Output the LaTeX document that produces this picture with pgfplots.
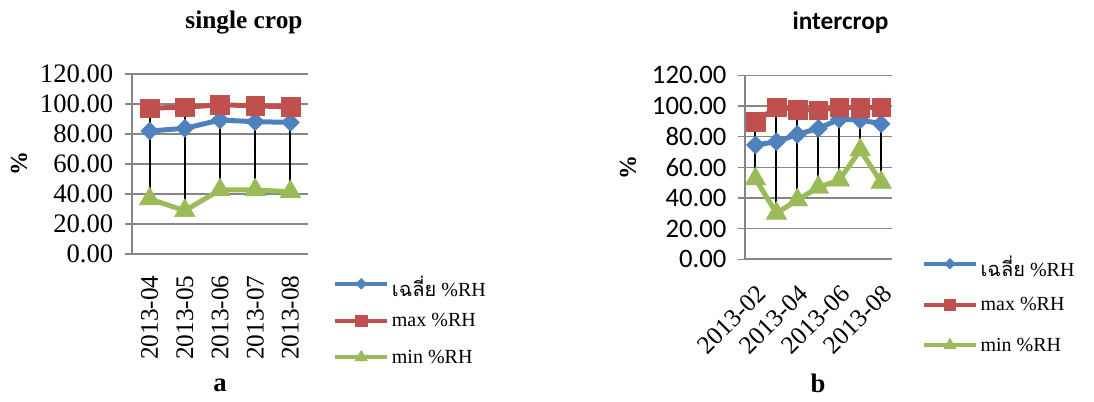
\documentclass[border=0pt]{standalone}
\usepackage{pgfplots}
\pgfplotsset{compat=1.18}
\usepackage{fontspec}
\setmainfont{Liberation Serif}
\newfontfamily\calibri{Carlito}
\newfontfamily\thaifont[Script=Thai]{Loma}

\definecolor{rhblue}{RGB}{79,129,189}
\definecolor{rhred}{RGB}{192,80,77}
\definecolor{rhgreen}{RGB}{155,187,89}
\definecolor{rhgrid}{RGB}{134,134,134}

\pgfplotsset{
  rhaxis/.style={
    scale only axis,
    axis lines=left,
    axis line style={-, rhgrid, line width=1.5pt},
    ymin=0, ymax=120, ytick={0,20,...,120},
    ymajorgrids,
    grid style={rhgrid, line width=1.2pt},
    tick align=outside,
    major tick length=5.5pt,
    ytick style={rhgrid, line width=1.2pt},
    xtick style={draw=none},
    unbounded coords=jump,
    yticklabel style={/pgf/number format/fixed, /pgf/number format/fixed zerofill, /pgf/number format/precision=2, /pgf/number format/assume math mode=true},
    clip=false,
    legend cell align=left,
    legend style={draw=none, fill=none, inner sep=0pt, font=\fontsize{15}{18}\selectfont, row sep=12pt},
    legend image code/.code={\draw[mark repeat=2, mark phase=2, ##1, line width=3pt, every mark/.append style={scale=0.6}] plot coordinates {(0pt,0pt) (19.5pt,0pt) (39pt,0pt)};},
  },
  avgline/.style={rhblue, line width=3.75pt, line join=round, mark=square*, mark size=4.8pt, mark options={rotate=45, solid, line width=0.3pt}},
  maxline/.style={rhred, line width=3.75pt, line join=round, mark=square*, mark size=7pt, mark options={solid, line width=0.3pt}},
  minline/.style={rhgreen, line width=3.75pt, line join=round, mark=triangle*, mark size=9pt, mark options={solid, line width=0.3pt}},
  hiloline/.style={black, line width=1.5pt, no marks, forget plot},
}

\begin{document}
\begin{tikzpicture}
\useasboundingbox (0,0) rectangle (820.5pt,-300.75pt);

% a: single crop
\begin{axis}[rhaxis, at={(99pt,-190.5pt)}, anchor=south west, width=132pt, height=135pt,
  xmin=-0.5, xmax=4.5, xtick={0,...,4},
  xticklabels={2013-04,2013-05,2013-06,2013-07,2013-08},
  xticklabel style={rotate=90, anchor=east, font=\fontsize{19}{20}\selectfont},
  xticklabel shift=7pt,
  yticklabel style={font=\fontsize{20}{22}\selectfont},
  yticklabel shift=5pt,
  legend style={at={(1.142,-0.105)}, anchor=north west}]
\addplot[avgline] coordinates {(0,82.0) (1,83.8) (2,89.3) (3,88.2) (4,87.8)};
\addlegendentry{\raisebox{-5pt}{{\thaifont เฉลี่ย} \%RH}}
\addplot[maxline] coordinates {(0,97.3) (1,97.8) (2,99.5) (3,98.8) (4,98.0)};
\addlegendentry{max \%RH}
\addplot[minline] coordinates {(0,36.7) (1,28.9) (2,42.7) (3,42.7) (4,41.5)};
\addlegendentry{min \%RH}
\addplot[hiloline] coordinates {(0,36.7) (0,97.3) (0,nan) (1,28.9) (1,97.8) (1,nan)
  (2,42.7) (2,99.5) (2,nan) (3,42.7) (3,98.8) (3,nan) (4,41.5) (4,98.0)};
\end{axis}

% b: intercrop
\begin{axis}[rhaxis, at={(558.75pt,-194.5pt)}, anchor=south west, width=110pt, height=138pt,
  xmin=-0.5, xmax=6.5, xtick={0,2,4,6},
  xticklabels={2013-02,2013-04,2013-06,2013-08},
  xticklabel style={rotate=45, anchor=north east, font=\fontsize{19}{20}\selectfont},
  xticklabel shift=8pt,
  yticklabel style={font=\calibri\fontsize{20}{22}\selectfont},
  yticklabel shift=5pt,
  legend style={at={(1.2045,0.035)}, anchor=north west, row sep=15pt}]
\addplot[avgline] coordinates {(0,74.6) (1,76.7) (2,81.5) (3,85.4) (4,91.3) (5,90.9) (6,88.4)};
\addlegendentry{\raisebox{-5pt}{{\thaifont เฉลี่ย} \%RH}}
\addplot[maxline] coordinates {(0,89.6) (1,99.2) (2,97.7) (3,97.2) (4,99.3) (5,99.0) (6,99.2)};
\addlegendentry{max \%RH}
\addplot[minline] coordinates {(0,52.4) (1,30.0) (2,38.7) (3,47.0) (4,51.7) (5,71.3) (6,50.2)};
\addlegendentry{min \%RH}
\addplot[hiloline] coordinates {(0,52.4) (0,89.6) (0,nan) (1,30.0) (1,99.2) (1,nan)
  (2,38.7) (2,97.7) (2,nan) (3,47.0) (3,97.2) (3,nan) (4,51.7) (4,99.3) (4,nan)
  (5,71.3) (5,99.0) (5,nan) (6,50.2) (6,99.2)};
\end{axis}

\node[font=\bfseries\fontsize{19}{22}\selectfont] at (183pt,-17.25pt) {single crop};
\node[font=\calibri\bfseries\fontsize{19}{22}\selectfont] at (630.4pt,-17.25pt) {intercrop};
\node[rotate=90, font=\bfseries\fontsize{18}{20}\selectfont] at (14.25pt,-122.25pt) {\%};
\node[rotate=90, font=\bfseries\fontsize{18}{20}\selectfont] at (471pt,-125.25pt) {\%};
\node[font=\bfseries\fontsize{20}{22}\selectfont] at (165pt,-288.75pt) {a};
\node[font=\bfseries\fontsize{20}{22}\selectfont] at (613.5pt,-287.25pt) {b};
\end{tikzpicture}
\end{document}
